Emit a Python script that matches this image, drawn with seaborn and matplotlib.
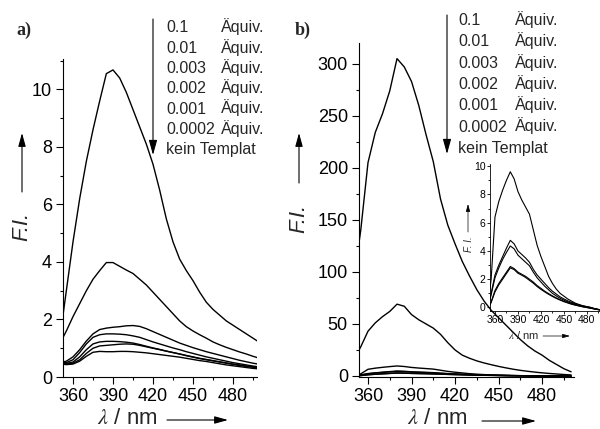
import numpy as np
import pandas as pd
import matplotlib
matplotlib.use("Agg")
import matplotlib.pyplot as plt
from matplotlib.ticker import AutoMinorLocator
import seaborn as sns

# wavelength grid (nm) shared by all spectra
wavelength = [350, 355, 360, 365, 370, 375, 380, 385, 390, 395, 400, 405, 410, 415, 420,
              425, 430, 435, 440, 445, 450, 455, 460, 465, 470, 475, 480, 485, 490, 495, 500]

samples = ["0.1", "0.01", "0.003", "0.002", "0.001", "0.0002", "kein Templat"]

# panel a) fluorescence intensities
a_01 = [1.3, 3.0, 4.7, 6.2, 7.5, 8.6, 9.6, 10.55, 10.68, 10.4, 9.9, 9.3, 8.7, 8.1, 7.4,
        6.5, 5.5, 4.7, 4.1, 3.7, 3.35, 2.95, 2.6, 2.35, 2.15, 1.95, 1.8, 1.65, 1.5, 1.35, 1.2]
a_001 = [1.15, 1.6, 2.1, 2.55, 3.0, 3.4, 3.7, 3.98, 3.98, 3.85, 3.72, 3.6, 3.4, 3.2, 2.95,
         2.7, 2.45, 2.2, 1.95, 1.75, 1.6, 1.47, 1.35, 1.22, 1.12, 1.03, 0.95, 0.87, 0.8, 0.72, 0.65]
a_0003 = [0.5, 0.55, 0.7, 0.95, 1.25, 1.5, 1.65, 1.7, 1.73, 1.75, 1.78, 1.79, 1.76, 1.68, 1.58,
          1.48, 1.38, 1.28, 1.18, 1.1, 1.02, 0.95, 0.88, 0.82, 0.76, 0.7, 0.64, 0.58, 0.53, 0.48, 0.44]
a_0002 = [0.5, 0.5, 0.6, 0.85, 1.15, 1.38, 1.47, 1.5, 1.5, 1.49, 1.47, 1.43, 1.38, 1.3, 1.22,
          1.15, 1.08, 1.01, 0.95, 0.88, 0.82, 0.76, 0.7, 0.65, 0.6, 0.55, 0.5, 0.46, 0.42, 0.38, 0.35]
a_0001 = [0.48, 0.47, 0.52, 0.7, 0.95, 1.15, 1.22, 1.24, 1.24, 1.23, 1.21, 1.18, 1.13, 1.07, 1.01,
          0.96, 0.9, 0.85, 0.8, 0.75, 0.7, 0.65, 0.61, 0.57, 0.53, 0.49, 0.45, 0.42, 0.38, 0.35, 0.32]
a_00002 = [0.47, 0.45, 0.48, 0.6, 0.82, 1.0, 1.08, 1.1, 1.12, 1.14, 1.15, 1.14, 1.1, 1.05, 1.0,
           0.95, 0.9, 0.85, 0.8, 0.74, 0.69, 0.64, 0.6, 0.56, 0.52, 0.48, 0.44, 0.4, 0.37, 0.34, 0.31]
a_kein = [0.46, 0.43, 0.45, 0.55, 0.72, 0.86, 0.89, 0.88, 0.88, 0.89, 0.89, 0.88, 0.86, 0.84, 0.81,
          0.78, 0.75, 0.72, 0.69, 0.65, 0.61, 0.57, 0.54, 0.5, 0.46, 0.42, 0.39, 0.36, 0.33, 0.3, 0.28]

# panel b) fluorescence intensities
b_01 = [90, 140, 205, 234, 252, 274, 305, 297, 283, 260, 232, 206, 170, 145, 127,
        110, 96, 83, 72, 63, 56, 49, 42, 35, 29, 24, 20, 15, 11, 7, 4]
b_001 = [15, 28, 43, 51, 57, 62, 69, 67, 59, 54, 50, 46, 40, 32, 25,
         20, 17, 14.5, 12.5, 10.8, 9.2, 7.8, 6.5, 5.4, 4.5, 3.7, 3.0, 2.4, 1.9, 1.4, 1.0]
b_0003 = [-0.2, 2.0, 6.4, 7.5, 8.3, 9.0, 9.6, 9.1, 8.2, 7.6, 7.1, 6.6, 5.5, 4.4, 3.6,
          2.9, 2.2, 1.7, 1.3, 1.0, 0.8, 0.6, 0.45, 0.3, 0.2, 0.1, 0.05, 0.0, -0.1, -0.15, -0.2]
b_0002 = [-0.2, 1.0, 2.3, 3.0, 3.6, 4.2, 4.75, 4.5, 4.0, 3.75, 3.5, 3.2, 2.7, 2.3, 2.0,
          1.7, 1.4, 1.15, 0.95, 0.75, 0.6, 0.47, 0.36, 0.27, 0.19, 0.12, 0.06, 0.0, -0.08, -0.14, -0.2]
b_0001 = [-0.2, 0.9, 2.1, 2.8, 3.4, 3.9, 4.35, 4.15, 3.7, 3.45, 3.2, 2.95, 2.5, 2.1, 1.8,
          1.5, 1.25, 1.0, 0.82, 0.65, 0.52, 0.4, 0.3, 0.22, 0.15, 0.09, 0.04, -0.02, -0.08, -0.14, -0.2]
b_00002 = [-0.2, 0.4, 1.2, 1.7, 2.1, 2.5, 2.9, 2.75, 2.5, 2.35, 2.2, 2.0, 1.8, 1.55, 1.35,
           1.15, 0.98, 0.82, 0.68, 0.55, 0.44, 0.34, 0.25, 0.18, 0.11, 0.05, 0.0, -0.05, -0.1, -0.15, -0.2]
b_kein = [-0.2, 0.35, 1.1, 1.6, 2.0, 2.4, 2.8, 2.68, 2.42, 2.28, 2.12, 1.92, 1.72, 1.48, 1.28,
          1.1, 0.93, 0.78, 0.64, 0.52, 0.41, 0.32, 0.23, 0.16, 0.1, 0.04, -0.01, -0.06, -0.11, -0.16, -0.2]

a_series = [a_01, a_001, a_0003, a_0002, a_0001, a_00002, a_kein]
b_series = [b_01, b_001, b_0003, b_0002, b_0001, b_00002, b_kein]


def long_df(series, names):
    frames = [pd.DataFrame({"wl": wavelength, "fi": s, "sample": n}) for s, n in zip(series, names)]
    return pd.concat(frames, ignore_index=True)


df_a = long_df(a_series, samples)
df_b = long_df(b_series, samples)
df_inset = long_df(b_series[2:], samples[2:])

sns.set_style("ticks")
plt.rcParams['font.family'] = ['Liberation Sans', 'DejaVu Sans']
plt.rcParams['mathtext.fontset'] = 'stix'

W, H = 600, 429
fig = plt.figure(figsize=(6, 4.29), dpi=100)


def fx(x):
    return x / W


def fy(y):
    return 1 - y / H


def style_axis(ax, fs, major, minor, lw=0.8, pad=3):
    ax.tick_params(axis='both', which='major', direction='out', length=major, width=lw,
                   labelsize=fs, pad=pad, color='black', labelcolor='black')
    ax.tick_params(axis='both', which='minor', direction='out', length=minor, width=lw, color='black')
    for sp in ['left', 'bottom']:
        ax.spines[sp].set_linewidth(lw)
        ax.spines[sp].set_color('black')
    sns.despine(ax=ax)
    ax.set_xlabel('')
    ax.set_ylabel('')
    ax.xaxis.set_minor_locator(AutoMinorLocator(2))
    ax.yaxis.set_minor_locator(AutoMinorLocator(2))


def arrow(x0, y0, x1, y1, lw=0.8, scale=9):
    fig.add_artist(matplotlib.patches.FancyArrowPatch(
        (fx(x0), fy(y0)), (fx(x1), fy(y1)), transform=fig.transFigure,
        arrowstyle='-|>,head_length=0.9,head_width=0.25', mutation_scale=scale,
        lw=lw, color='black', shrinkA=0, shrinkB=0))


black7 = ['black'] * 7

# ---- panel a
ax_a = fig.add_axes([fx(63), fy(377), 194 / W, 318 / H])
sns.lineplot(data=df_a, x='wl', y='fi', hue='sample', palette=black7, legend=False,
             lw=1.0, ax=ax_a, estimator=None)
ax_a.set_xlim(352.5, 498)
ax_a.set_ylim(0, 11.06)
ax_a.set_xticks([360, 390, 420, 450, 480])
ax_a.set_yticks([0, 2, 4, 6, 8, 10])
style_axis(ax_a, 13, 5, 2.5)

# ---- panel b
ax_b = fig.add_axes([fx(359), fy(377), 215 / W, 334 / H])
sns.lineplot(data=df_b, x='wl', y='fi', hue='sample', palette=black7, legend=False,
             lw=1.0, ax=ax_b, estimator=None)
ax_b.set_xlim(353.8, 502)
ax_b.set_ylim(-1, 320)
ax_b.set_xticks([360, 390, 420, 450, 480])
ax_b.set_yticks([0, 50, 100, 150, 200, 250, 300])
style_axis(ax_b, 13, 5, 2.5)

# ---- inset
ax_i = fig.add_axes([fx(490), fy(311), 113 / W, 147 / H])
ax_i.patch.set_alpha(0)
sns.lineplot(data=df_inset, x='wl', y='fi', hue='sample', palette=black7[:5], legend=False,
             lw=0.8, ax=ax_i, estimator=None)
ax_i.set_xlim(353.5, 501)
ax_i.set_ylim(-0.25, 10.15)
ax_i.set_xticks([360, 390, 420, 450, 480])
ax_i.set_yticks([0, 2, 4, 6, 8, 10])
style_axis(ax_i, 7.5, 2.2, 1.2, lw=0.6, pad=1)

# ---- panel labels
fig.text(fx(16), fy(35), 'a)', fontsize=13, fontweight='bold', family='Liberation Serif')
fig.text(fx(295), fy(35), 'b)', fontsize=13, fontweight='bold', family='Liberation Serif')

# ---- axis titles with arrows
fig.text(fx(22), fy(226), 'F.I.', fontsize=16, style='italic', rotation=90, ha='center', va='center')
arrow(22, 192, 22, 133)
fig.text(fx(299), fy(218), 'F.I.', fontsize=16, style='italic', rotation=90, ha='center', va='center')
arrow(299, 183, 299, 133)

fig.text(fx(97), fy(419), r'$\lambda$ / nm', fontsize=16, ha='left', va='center')
arrow(167, 420, 228, 420)
fig.text(fx(407), fy(419), r'$\lambda$ / nm', fontsize=16, ha='left', va='center')
arrow(482, 421, 536, 421)

fig.text(fx(469), fy(244), 'F. I.', fontsize=7, style='italic', rotation=90, ha='center', va='center')
arrow(468, 232, 468, 204, lw=0.5, scale=5)
fig.text(fx(508), fy(335), r'$\lambda$ / nm', fontsize=8, ha='left', va='center')
arrow(543, 336, 570, 336, lw=0.5, scale=5)

# ---- concentration lists with arrows
for i, s in enumerate(samples):
    ya = 32.3 + i * 20.3
    yb = 25 + i * 21.3
    if s == "kein Templat":
        fig.text(fx(166), fy(ya), s, fontsize=11.5, va='baseline')
        fig.text(fx(458), fy(yb), s, fontsize=11.5, va='baseline')
    else:
        fig.text(fx(166), fy(ya), s, fontsize=11.5, va='baseline')
        fig.text(fx(221), fy(ya), 'Äquiv.', fontsize=11.5, va='baseline')
        fig.text(fx(458), fy(yb), s, fontsize=11.5, va='baseline')
        fig.text(fx(515), fy(yb), 'Äquiv.', fontsize=11.5, va='baseline')
arrow(153, 19, 153, 155, scale=10)
arrow(447, 15, 447, 154, scale=10)

fig.savefig('out.png', dpi=100)
